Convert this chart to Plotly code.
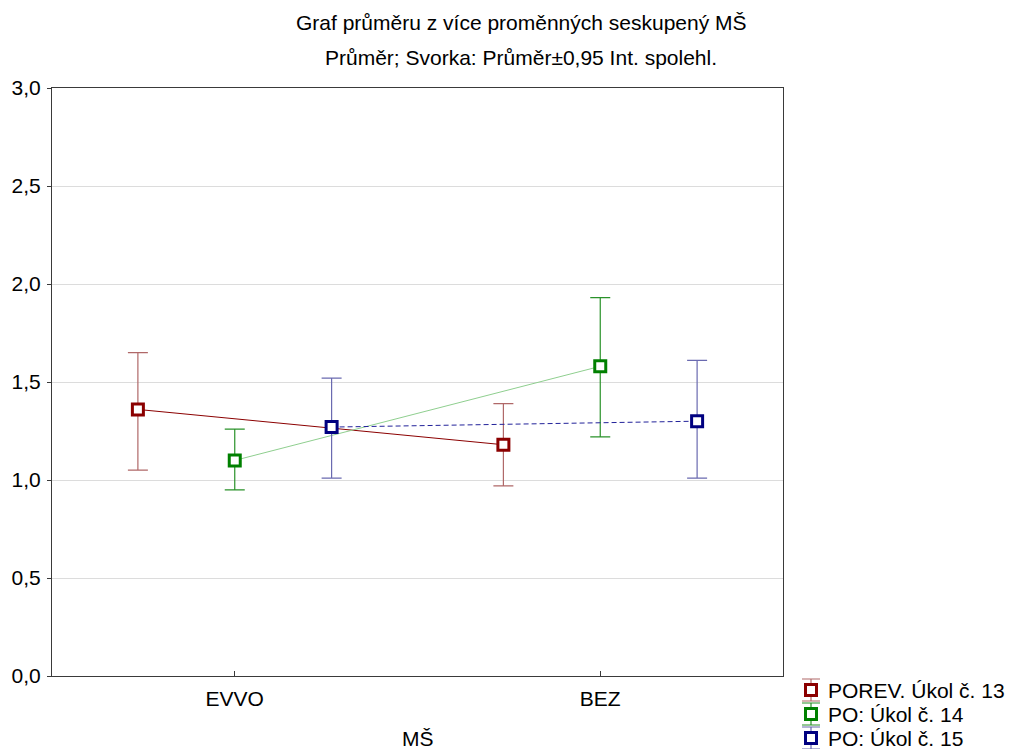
import plotly.graph_objects as go

# Categories of MŠ and the series shown for each
categories = ["EVVO", "BEZ"]
series_names = ["POREV. Úkol č. 13", "PO: Úkol č. 14", "PO: Úkol č. 15"]

# Means and 95% confidence interval bounds per series
means = {
    "POREV. Úkol č. 13": [1.36, 1.18],
    "PO: Úkol č. 14": [1.10, 1.58],
    "PO: Úkol č. 15": [1.27, 1.30],
}
ci_low = {
    "POREV. Úkol č. 13": [1.05, 0.97],
    "PO: Úkol č. 14": [0.95, 1.22],
    "PO: Úkol č. 15": [1.01, 1.01],
}
ci_high = {
    "POREV. Úkol č. 13": [1.65, 1.39],
    "PO: Úkol č. 14": [1.26, 1.93],
    "PO: Úkol č. 15": [1.52, 1.61],
}

y_ticks = [0.0, 0.5, 1.0, 1.5, 2.0, 2.5, 3.0]
y_tick_text = ["0,0", "0,5", "1,0", "1,5", "2,0", "2,5", "3,0"]

W, H = 1011, 749
FONT = "Liberation Sans, Arial, sans-serif"
FS = 21

styles = {
    "POREV. Úkol č. 13": dict(offset=-0.265, marker="#8b0000", line="#8b0000",
                              err="#b06868", dash="solid"),
    "PO: Úkol č. 14": dict(offset=0.0, marker="#008000", line="#8fcf8f",
                           err="#2a922a", dash="solid"),
    "PO: Úkol č. 15": dict(offset=0.265, marker="#000080", line="#22229a",
                           err="#6a6ab0", dash="5px,3px"),
}

marker_of = lambda s: dict(symbol="square", size=11, color="white",
                           line=dict(color=s["marker"], width=3))

fig = go.Figure()
for name in series_names:
    s = styles[name]
    xs = [i + s["offset"] for i in range(len(categories))]
    m = means[name]
    plus = [h - v for h, v in zip(ci_high[name], m)]
    minus = [v - l for v, l in zip(m, ci_low[name])]
    fig.add_trace(go.Scatter(
        x=xs, y=m, name=name, mode="lines+markers", showlegend=False,
        line=dict(color=s["line"], width=1, dash=s["dash"]),
        marker=marker_of(s),
        error_y=dict(type="data", symmetric=False, array=plus,
                     arrayminus=minus, color=s["err"], thickness=1.2,
                     width=10),
    ))

# Legend drawn on its own hidden axis in the lower-right corner (pixel units)
leg_x0, leg_y0, leg_dy = 811, 690, 24
for i, name in enumerate(series_names):
    s = styles[name]
    fig.add_trace(go.Scatter(
        x=[leg_x0], y=[leg_y0 + i * leg_dy], mode="markers", showlegend=False,
        xaxis="x2", yaxis="y2", marker=marker_of(s), hoverinfo="skip",
        error_y=dict(type="constant", value=11, color=s["err"],
                     thickness=1.2, width=9),
    ))
    fig.add_annotation(
        x=leg_x0 + 15, y=leg_y0 + i * leg_dy, xref="x2", yref="y2",
        text=name, showarrow=False, xanchor="left", yanchor="middle",
        font=dict(size=FS, family=FONT, color="black"),
    )

px_x = lambda p: p / W
px_y = lambda p: 1 - p / H

fig.update_layout(
    width=W, height=H,
    margin=dict(l=0, r=0, t=0, b=0, autoexpand=False),
    paper_bgcolor="white", plot_bgcolor="white",
    font=dict(family=FONT, size=FS, color="black"),
    showlegend=False,
    xaxis=dict(
        domain=[px_x(52), px_x(783)],
        range=[-0.5, 1.5], tickvals=[0, 1], ticktext=categories,
        showgrid=False, zeroline=False, showline=True, linecolor="#3a3a3a",
        linewidth=1, mirror=True, ticks="inside", ticklen=5,
        tickcolor="#3a3a3a", tickfont=dict(size=FS), ticklabelstandoff=4,
    ),
    yaxis=dict(
        domain=[px_y(676), px_y(88)],
        range=[0, 3], tickvals=y_ticks, ticktext=y_tick_text,
        showgrid=True, gridcolor="#dcdcdc", gridwidth=1, zeroline=False,
        showline=True, linecolor="#3a3a3a", linewidth=1, mirror=True,
        ticks="outside", ticklen=4, tickcolor="#3a3a3a",
        tickfont=dict(size=FS), ticklabelstandoff=2,
    ),
    xaxis2=dict(domain=[px_x(790), 1.0], range=[790, W], visible=False,
                fixedrange=True),
    yaxis2=dict(domain=[0.0, px_y(669)], range=[H, 669], visible=False,
                fixedrange=True, anchor="x2"),
)

# Titles
fig.add_annotation(x=px_x(521), y=px_y(22), xref="paper", yref="paper",
                   text="Graf průměru z více proměnných seskupený MŠ",
                   showarrow=False, xanchor="center", yanchor="middle",
                   font=dict(size=FS))
fig.add_annotation(x=px_x(521), y=px_y(57), xref="paper", yref="paper",
                   text="Průměr; Svorka: Průměr±0,95 Int. spolehl.",
                   showarrow=False, xanchor="center", yanchor="middle",
                   font=dict(size=FS))
fig.add_annotation(x=px_x(417.5), y=px_y(738), xref="paper", yref="paper",
                   text="MŠ", showarrow=False, xanchor="center",
                   yanchor="middle", font=dict(size=FS))

fig.write_html("out.html")
